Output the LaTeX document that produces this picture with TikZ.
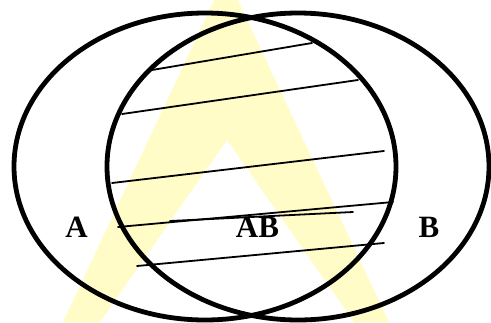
\documentclass[tikz,border=0pt]{standalone}
\usepackage{fontspec}
\setmainfont{Liberation Serif}
\usetikzlibrary{positioning}
\definecolor{MarkYellow}{HTML}{FFFCC8}
\definecolor{SetBlack}{HTML}{000000}

\begin{document}
\begin{tikzpicture}[x=1pt,y=-1pt,line cap=round,line join=round]
  \useasboundingbox (0,0) rectangle (491,322);
  \coordinate (CA) at (205,166.5);\coordinate (CB) at (298,166.5);
  % watermark
  \begin{scope}
    \clip (0,0) rectangle (491,322);
    \fill[MarkYellow,even odd rule] (63,322)--(226,-25)--(389,322)--cycle (100,322)--(227,140)--(354,322)--cycle;
  \end{scope}
  % hatching of the intersection
  \foreach \a/\b in {{152,70}/{312,43},{122,114}/{358,80},{112,183}/{384,151},{118,227}/{393,202},{170,221}/{353,212},{137,266}/{384,243}}
    {\draw[SetBlack,line width=1.8pt] (\a)--(\b);}
  \draw[SetBlack,line width=4.8pt] (CA) ellipse[x radius=191,y radius=153.5];
  \draw[SetBlack,line width=4.8pt] (CB) ellipse[x radius=191,y radius=153.5];
  \node[font=\bfseries\fontsize{31}{31}\selectfont] (labA) at (76.5,227) {A};
  \node[font=\bfseries\fontsize{31}{31}\selectfont] (labAB) at (257.5,227.5) {AB};
  \node[font=\bfseries\fontsize{31}{31}\selectfont] (labB) at (429,227.5) {B};
\end{tikzpicture}
\end{document}
